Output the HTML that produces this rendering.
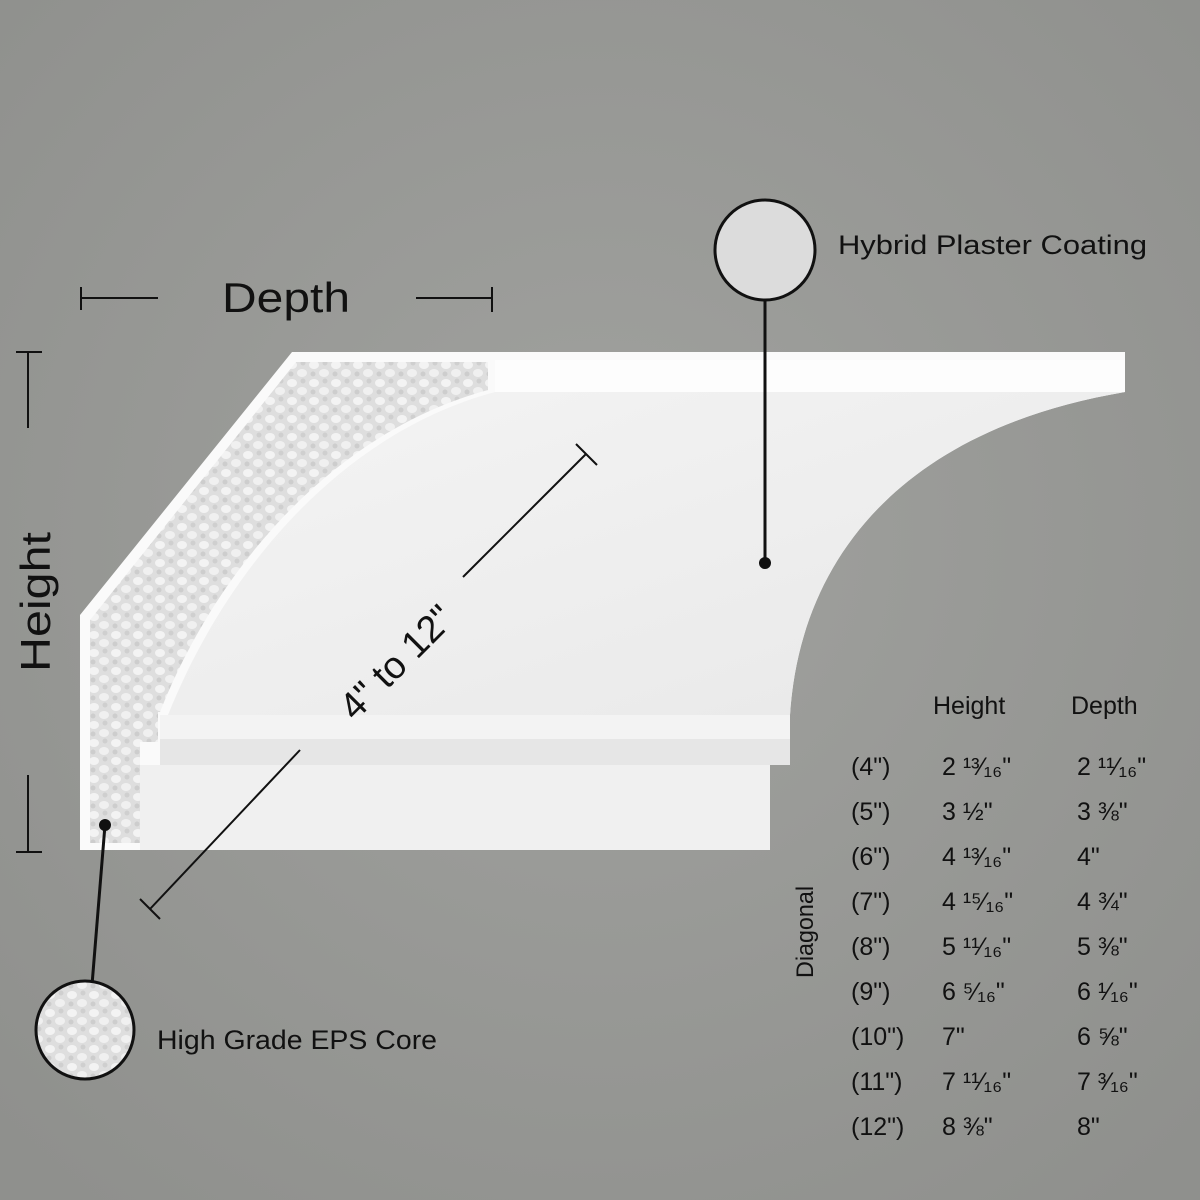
<!DOCTYPE html>
<html><head><meta charset="utf-8"><style>
body{margin:0;width:1200px;height:1200px;background:#9b9c99;overflow:hidden;font-family:"Liberation Sans","DejaVu Sans",sans-serif;}
svg{position:absolute;left:0;top:0}
</style></head><body>
<svg width="1200" height="1200" viewBox="0 0 1200 1200">
<defs>
<radialGradient id="bg" cx="50%" cy="45%" r="70%"><stop offset="0" stop-color="#a1a29f"/><stop offset="1" stop-color="#8f908d"/></radialGradient>
<linearGradient id="face" x1="0" y1="0" x2="1" y2="1"><stop offset="0" stop-color="#f4f4f4"/><stop offset="1" stop-color="#e8e8e8"/></linearGradient>
<pattern id="eps" width="22" height="18" patternUnits="userSpaceOnUse">
<rect width="22" height="18" fill="#dedede"/><ellipse cx="6" cy="5" rx="5" ry="4" fill="#f3f3f3"/><ellipse cx="16" cy="13" rx="5" ry="4" fill="#f0f0f0"/><circle cx="17" cy="3" r="2.5" fill="#cfcfcf"/><circle cx="5" cy="14" r="2.5" fill="#cdcdcd"/></pattern>
</defs>
<rect width="1200" height="1200" fill="url(#bg)"/>
<path d="M80,850 L80,615 L292,352 L1125,352 L1125,392 C900,430 800,560 790,715 L790,765 L770,765 L770,850 Z" fill="#fafafa"/>
<path d="M495,392 L1125,392 C900,430 800,560 790,715 L168,715 C228,565 345,432 495,392 Z" fill="url(#face)"/>
<rect x="495" y="360" width="630" height="32" fill="#fdfdfd"/>
<rect x="160" y="715" width="630" height="24" fill="#f3f3f3"/>
<rect x="160" y="739" width="630" height="26" fill="#e6e6e6"/>
<rect x="140" y="765" width="630" height="85" fill="#f0f0f0"/>
<path d="M90,843 L90,620 L296,362 L488,362 L488,390 C340,430 220,560 160,712 L158,712 L158,742 L140,742 L140,765 L140,843 Z" fill="url(#eps)"/>
<g stroke="#111" stroke-width="2" fill="none">
<line x1="80" y1="298" x2="158" y2="298"/><line x1="81" y1="287" x2="81" y2="310"/>
<line x1="416" y1="298" x2="492" y2="298"/><line x1="492" y1="287" x2="492" y2="312"/>
<line x1="28" y1="352" x2="28" y2="428"/><line x1="16" y1="352" x2="42" y2="352"/>
<line x1="28" y1="775" x2="28" y2="852"/><line x1="16" y1="852" x2="42" y2="852"/>
<line x1="463" y1="577" x2="586" y2="454"/><line x1="576" y1="444" x2="597" y2="465"/>
<line x1="150" y1="909" x2="300" y2="750"/><line x1="140" y1="899" x2="160" y2="919"/>
<line x1="765" y1="298" x2="765" y2="563" stroke-width="3"/>
<line x1="105" y1="825" x2="92" y2="985" stroke-width="3"/>
</g>
<circle cx="765" cy="563" r="6" fill="#111"/>
<circle cx="105" cy="825" r="6" fill="#111"/>
<circle cx="765" cy="250" r="50" fill="#dcdcdc" stroke="#111" stroke-width="3"/>
<circle cx="85" cy="1030" r="49" fill="url(#eps)" stroke="#111" stroke-width="3"/>
<g fill="#111" font-family="Liberation Sans, DejaVu Sans, sans-serif">
<text x="222" y="312" font-size="42" textLength="128" lengthAdjust="spacingAndGlyphs">Depth</text>
<text transform="translate(50,672) rotate(-90)" font-size="42" textLength="140" lengthAdjust="spacingAndGlyphs">Height</text>
<text transform="translate(355,722) rotate(-45)" font-size="38">4" to 12"</text>
<text x="838" y="254" font-size="27" textLength="309" lengthAdjust="spacingAndGlyphs">Hybrid Plaster Coating</text>
<text x="157" y="1049" font-size="27" textLength="280" lengthAdjust="spacingAndGlyphs">High Grade EPS Core</text>
<text transform="translate(813,978) rotate(-90)" font-size="24" textLength="92" lengthAdjust="spacingAndGlyphs">Diagonal</text>
<g font-size="25">
<text x="933" y="714">Height</text><text x="1071" y="714">Depth</text>
<text x="851" y="775">(4")</text><text x="942" y="775">2 ¹³⁄₁₆"</text><text x="1077" y="775">2 ¹¹⁄₁₆"</text>
<text x="851" y="820">(5")</text><text x="942" y="820">3 ½"</text><text x="1077" y="820">3 ⅜"</text>
<text x="851" y="865">(6")</text><text x="942" y="865">4 ¹³⁄₁₆"</text><text x="1077" y="865">4"</text>
<text x="851" y="910">(7")</text><text x="942" y="910">4 ¹⁵⁄₁₆"</text><text x="1077" y="910">4 ¾"</text>
<text x="851" y="955">(8")</text><text x="942" y="955">5 ¹¹⁄₁₆"</text><text x="1077" y="955">5 ⅜"</text>
<text x="851" y="1000">(9")</text><text x="942" y="1000">6 ⁵⁄₁₆"</text><text x="1077" y="1000">6 ¹⁄₁₆"</text>
<text x="851" y="1045">(10")</text><text x="942" y="1045">7"</text><text x="1077" y="1045">6 ⅝"</text>
<text x="851" y="1090">(11")</text><text x="942" y="1090">7 ¹¹⁄₁₆"</text><text x="1077" y="1090">7 ³⁄₁₆"</text>
<text x="851" y="1135">(12")</text><text x="942" y="1135">8 ⅜"</text><text x="1077" y="1135">8"</text>
</g></g>
</svg>
</body></html>
